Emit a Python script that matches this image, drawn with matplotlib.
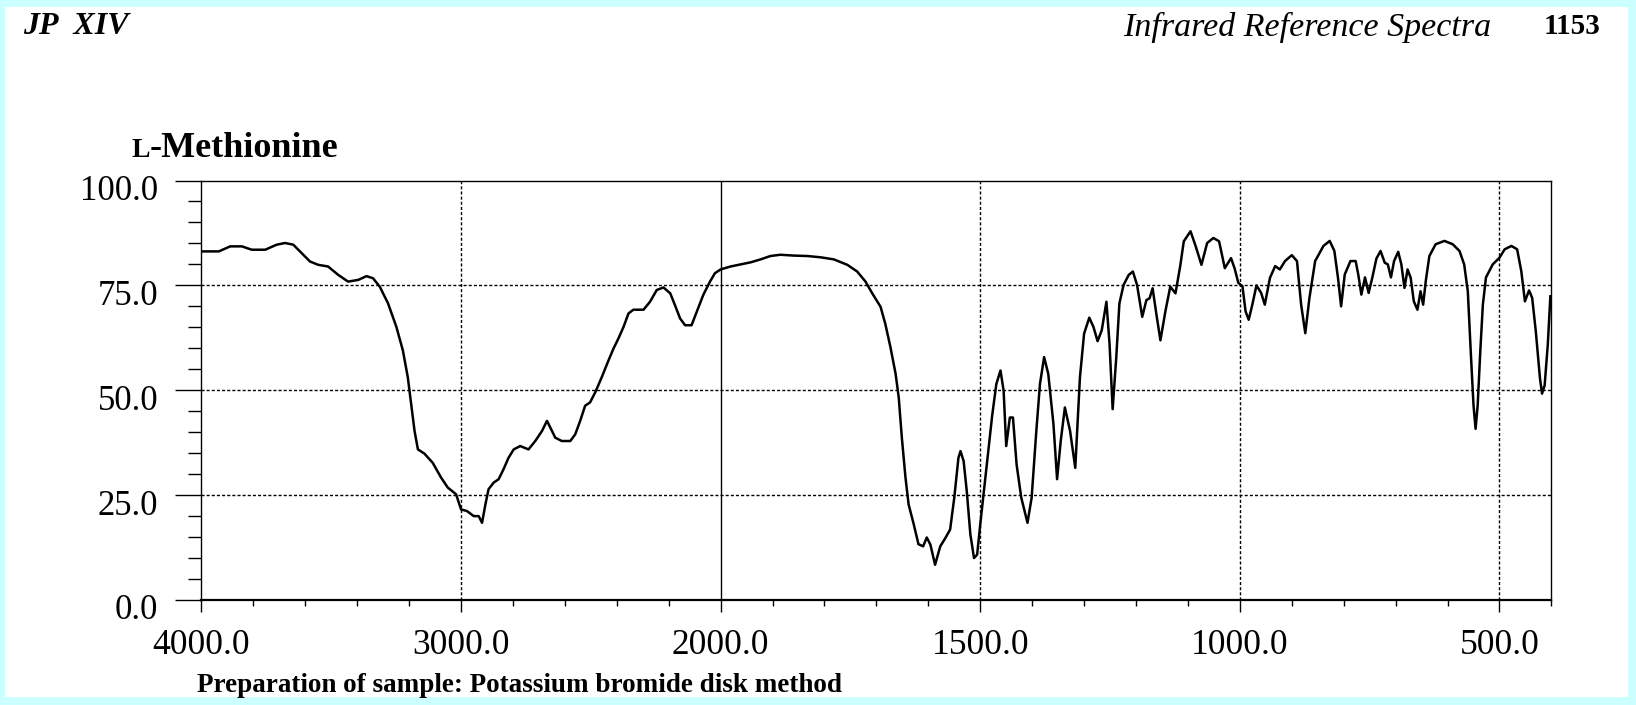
import numpy as np
import matplotlib
matplotlib.use('Agg')
import matplotlib.pyplot as plt
from matplotlib.patches import Rectangle
from matplotlib.transforms import ScaledTranslation

plt.rcParams['font.family'] = ['Liberation Serif', 'DejaVu Serif']

wavenumber = [
    4000, 3933, 3889, 3844, 3806, 3754, 3710, 3678, 3646, 3614, 3582, 3550,
    3512, 3473, 3435, 3396, 3364, 3339, 3313, 3281, 3249, 3224, 3205, 3192,
    3179, 3166, 3141, 3109, 3077, 3051, 3019, 3000, 2977, 2951, 2932, 2919,
    2906, 2894, 2874, 2855, 2836, 2817, 2797, 2772, 2740, 2714, 2688, 2669,
    2656, 2637, 2612, 2579, 2560, 2541, 2522, 2503, 2483, 2458, 2432, 2413,
    2394, 2374, 2355, 2336, 2297, 2272, 2246, 2220, 2194, 2176, 2156, 2137,
    2112, 2092, 2067, 2041, 2022,
    2000, 1981, 1962, 1942, 1923, 1904, 1885, 1859, 1833, 1808, 1782, 1756,
    1737, 1721, 1708, 1692, 1683, 1673, 1663, 1657, 1651, 1644, 1638, 1628,
    1619, 1610, 1603, 1596, 1587, 1577, 1567, 1558, 1550, 1542, 1538, 1532,
    1526, 1519, 1512, 1506, 1500, 1492, 1484, 1477, 1469, 1461, 1455, 1450,
    1443, 1437, 1430, 1421, 1409, 1401, 1392, 1385, 1377, 1369, 1359, 1352,
    1345, 1337, 1327, 1317, 1308, 1300, 1290, 1282, 1274, 1266, 1257, 1251,
    1245, 1238, 1232, 1224, 1214, 1206, 1198, 1188, 1180, 1174, 1168, 1161,
    1153, 1143, 1134, 1124, 1115, 1108, 1095, 1085, 1074, 1063, 1051, 1040,
    1029, 1017, 1010, 1003, 995, 989, 983, 976, 968, 959, 952, 942, 932, 923,
    913, 900, 890, 882, 874, 866, 855, 839, 827, 818, 811, 805, 798, 787, 777,
    772, 766, 759, 752, 745, 737, 729, 721, 715, 709, 703, 695, 689, 683, 677,
    671, 665, 658, 652, 647, 642, 635, 623, 606, 590, 577, 568, 561, 555, 550,
    546, 542, 537, 532, 526, 513, 500, 490, 477, 466, 458, 451, 443, 437, 430,
    422, 418, 413, 407, 402,
]
transmittance = [
    83.1, 83.1, 84.3, 84.3, 83.5, 83.5, 84.7, 85.1, 84.7, 82.7, 80.7, 79.9,
    79.5, 77.5, 75.9, 76.3, 77.2, 76.7, 74.7, 70.7, 65.1, 59.5, 53.1, 46.7,
    40.3, 35.9, 34.9, 32.7, 29.2, 26.8, 25.2, 21.6, 21.2, 20.0, 20.0, 18.4,
    22.8, 26.4, 28.0, 28.8, 31.2, 33.9, 35.9, 36.7, 35.9, 37.9, 40.3, 42.7,
    41.1, 38.7, 37.9, 37.9, 39.5, 42.7, 46.3, 47.1, 49.5, 53.1, 57.1, 59.9,
    62.3, 65.1, 68.3, 69.2, 69.2, 71.1, 73.9, 74.5, 73.1, 70.3, 67.1, 65.5,
    65.5, 68.7, 72.7, 75.9, 77.9,
    78.8, 79.5, 80.0, 80.5, 81.2, 82.0, 82.3, 82.1, 82.0, 81.7, 81.2, 79.9,
    78.3, 75.9, 73.1, 69.9, 65.9, 60.3, 53.9, 48.3, 38.7, 29.2, 22.8, 18.0,
    13.3, 12.8, 14.9, 13.2, 8.4, 12.8, 14.8, 16.8, 24.4, 33.9, 35.5, 33.1,
    26.0, 15.6, 10.0, 10.8, 18.0, 27.0, 36.0, 44.0, 51.5, 54.7, 49.9, 36.7,
    43.5, 43.5, 32.3, 24.4, 18.4, 24.4, 40.3, 51.5, 57.9, 53.9, 41.9, 28.8,
    37.9, 45.9, 40.3, 31.5, 53.1, 63.5, 67.3, 65.1, 61.7, 64.3, 71.1, 61.1,
    45.5, 57.9, 70.7, 75.1, 77.5, 78.3, 75.1, 67.5, 71.5, 71.9, 74.3, 68.3,
    61.9, 69.1, 74.7, 73.1, 79.5, 85.5, 87.9, 84.3, 79.9, 85.1, 86.3, 85.5,
    79.1, 81.5, 79.0, 75.6, 74.8, 68.8, 66.8, 70.4, 75.0, 73.2, 70.4, 76.8, 79.6, 78.8,
    80.8, 82.2, 80.8, 70.4, 63.6, 72.0, 80.8, 84.4, 85.6, 83.2, 76.8, 70.0, 77.6, 80.8, 80.8,
    77.6, 72.8, 76.9, 73.2, 76.8, 81.4, 83.2, 80.4, 80.0, 76.9, 80.8, 83.0, 80.0, 74.4, 78.8,
    76.8, 71.2, 69.2, 73.6, 70.4, 76.0, 82.0, 84.8, 85.6, 84.8, 83.2, 80.0, 73.6, 58.4, 46.4,
    40.8, 46.4, 59.2, 70.4, 76.9, 80.0, 81.6, 83.6, 84.4, 83.6, 78.4, 71.2, 73.8, 72.0, 64.0,
    52.8, 49.2, 51.2, 60.8, 72.4,
]

x_major = [4000, 3000, 2000, 1500, 1000, 500]
x_labels = ['4000.0', '3000.0', '2000.0', '1500.0', '1000.0', '500.0']
x_minor = [3800, 3600, 3400, 3200, 2800, 2600, 2400, 2200,
           1900, 1800, 1700, 1600, 1400, 1300, 1200, 1100,
           900, 800, 700, 600, 400]
y_major = [0, 25, 50, 75, 100]
y_labels = ['0.0', '25.0', '50.0', '75.0', '100.0']
y_minor = [v for v in range(5, 100, 5) if v % 25]
grid_x = [3000, 1500, 1000, 500]
grid_y = [25, 50, 75]


# the chart paper halves the scale above 2000 cm-1
def fwd(w):
    w = np.asarray(w, dtype=float)
    return np.where(w > 2000, 2000 + (w - 2000) / 2.0, w)


def inv(x):
    x = np.asarray(x, dtype=float)
    return np.where(x > 2000, 2000 + (x - 2000) * 2.0, x)


W, H = 1636, 705
fig = plt.figure(figsize=(W / 100, H / 100), dpi=100, facecolor='#ccffff')
fig.patches.append(Rectangle((5 / W, 1 - 697 / H), 1623 / W, 690 / H,
                             transform=fig.transFigure, facecolor='white',
                             edgecolor='none', zorder=-10))

ax = fig.add_axes([201.4 / W, 1 - 600 / H, 1350 / W, 419.5 / H])
ax.set_xscale('function', functions=(fwd, inv))
ax.set_xlim(4000, 400)
ax.set_ylim(0, 100)

for g in grid_y:
    ax.axhline(g, color='black', lw=1.0, ls=(0, (2.2, 1.5)), zorder=1)
for g in grid_x:
    ax.axvline(g, color='black', lw=1.0, ls=(0, (2.2, 1.5)), zorder=1)
ax.axvline(2000, color='black', lw=1.0, zorder=1)

ax.plot(wavenumber, transmittance, color='black', lw=1.8, zorder=3,
        solid_joinstyle='round')

ax.set_xticks(x_major, labels=x_labels)
ax.set_xticks(x_minor, minor=True)
ax.set_yticks(y_major, labels=y_labels, va='top')
ax.set_yticks(y_minor, minor=True)
ax.tick_params(axis='x', which='major', length=8.6, width=1.0, pad=12, labelsize=25.5)
ax.tick_params(axis='x', which='minor', length=4.5, width=1.0)
ax.tick_params(axis='y', which='major', length=19, width=1.0, pad=12, labelsize=25)
ax.tick_params(axis='y', which='minor', length=9.5, width=1.0)
# y labels hang just under their tick, a little higher than 'top' gives
lift = ScaledTranslation(0, 4 / 72, fig.dpi_scale_trans)
for lab in ax.get_yticklabels():
    lab.set_transform(lab.get_transform() + lift)
for s in ax.spines.values():
    s.set_linewidth(1.0)
ax.spines['bottom'].set_linewidth(1.6)

fig.text(23 / W, 1 - 27 / H, 'JP  XIV', fontsize=23, fontweight='bold',
         fontstyle='italic', va='center', ha='left')
fig.text(1491 / W, 1 - 27 / H, 'Infrared Reference Spectra', fontsize=24.5,
         fontstyle='italic', va='center', ha='right')
fig.text(1600 / W, 1 - 27 / H, '1153', fontsize=21, fontweight='bold',
         va='center', ha='right')

# compound name with small-capital L
t1 = fig.text(131 / W, 1 - 157 / H, 'L', fontsize=20, fontweight='bold',
              va='baseline', ha='left')
fig.canvas.draw()
bb = t1.get_window_extent()
fig.text(bb.x1 / W, 1 - 157 / H, '-Methionine', fontsize=26, fontweight='bold',
         va='baseline', ha='left')

fig.text(197 / W, 1 - 685 / H,
         'Preparation of sample: Potassium bromide disk method',
         fontsize=19.5, fontweight='bold', va='center', ha='left')

fig.savefig('out.png', dpi=100, facecolor=fig.get_facecolor())
